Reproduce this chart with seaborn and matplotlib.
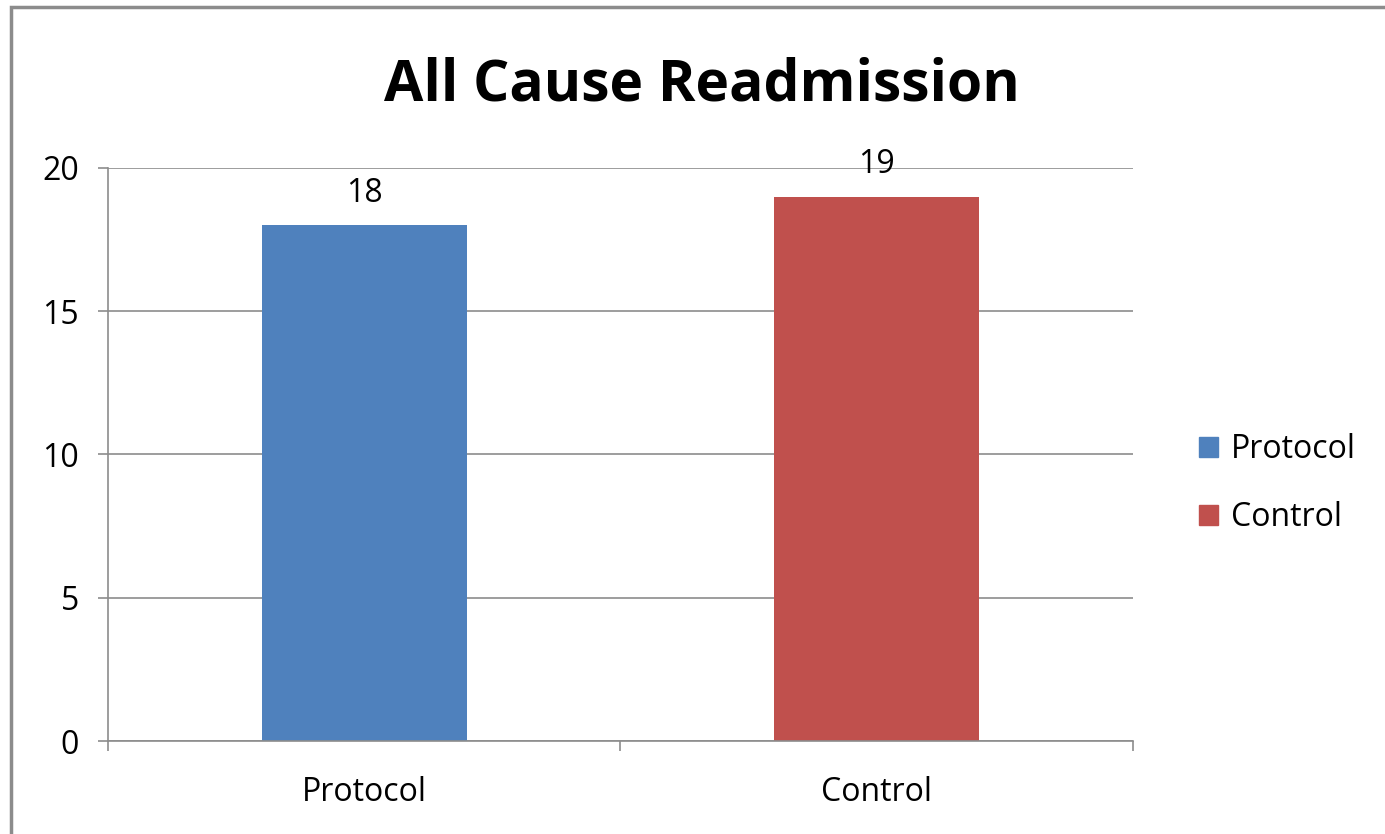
import matplotlib

matplotlib.use("Agg")

import matplotlib.pyplot as plt
import pandas as pd
import seaborn as sns
from matplotlib.patches import Rectangle

groups = ["Protocol", "Control"]
readmissions = [18, 19]
bar_colors = ["#4F81BD", "#C0504D"]
y_ticks = [0, 5, 10, 15, 20]

sns.set_theme(style="white")
plt.rcParams["font.family"] = ["Open Sans", "DejaVu Sans"]

df = pd.DataFrame({"Group": groups, "Readmissions": readmissions})

fig = plt.figure(figsize=(13.85, 8.34), dpi=100)
ax = fig.add_axes([0.078, 0.1115, 0.74, 0.6871])

sns.barplot(
    data=df,
    x="Group",
    y="Readmissions",
    hue="Group",
    palette=bar_colors,
    width=0.4,
    dodge=False,
    saturation=1,
    legend=False,
    linewidth=0,
    ax=ax,
)

label_size = 23
for patch, value in zip(ax.patches, readmissions):
    ax.text(
        patch.get_x() + patch.get_width() / 2,
        value + 0.55,
        f"{value}",
        ha="center",
        va="bottom",
        fontsize=label_size,
        color="black",
    )

grid_color = "#8C8C8C"
ax.set_ylim(0, 20)
ax.set_xlim(-0.5, 1.5)
ax.set_yticks(y_ticks)
ax.set_yticklabels([str(t) for t in y_ticks], fontsize=label_size, color="black")
ax.set_xticks(range(len(groups)))
ax.set_xticklabels(groups, fontsize=label_size, color="black")
ax.set_xticks([-0.5, 0.5, 1.5], minor=True)
ax.tick_params(axis="x", which="major", bottom=True, length=0, pad=25)
ax.tick_params(axis="x", which="minor", bottom=True, length=7, width=1.2,
               color=grid_color, direction="out")
ax.tick_params(axis="y", left=True, length=7, width=1.2, color=grid_color, pad=14)
ax.yaxis.grid(True, color=grid_color, linewidth=1.2)
ax.set_axisbelow(True)
ax.set_xlabel("")
ax.set_ylabel("")
for side in ["top", "right"]:
    ax.spines[side].set_visible(False)
for side in ["left", "bottom"]:
    ax.spines[side].set_color(grid_color)
    ax.spines[side].set_linewidth(1.2)

handles = [Rectangle((0, 0), 1, 1, color=c) for c in bar_colors]
fig.legend(
    handles,
    groups,
    loc="center left",
    bbox_to_anchor=(0.845, 0.42),
    frameon=False,
    fontsize=label_size,
    handlelength=0.6,
    handleheight=0.6,
    handletextpad=0.4,
    labelspacing=1.1,
    labelcolor="black",
)

fig.text(0.507, 0.898, "All Cause Readmission", ha="center", va="center",
         fontsize=41, fontweight="bold", color="black")

fig.patches.append(
    Rectangle((0.008, -0.05), 1.1, 1.042, transform=fig.transFigure,
              fill=False, edgecolor="#8C8C8C", linewidth=2.5)
)

fig.savefig("out.png", dpi=100)
